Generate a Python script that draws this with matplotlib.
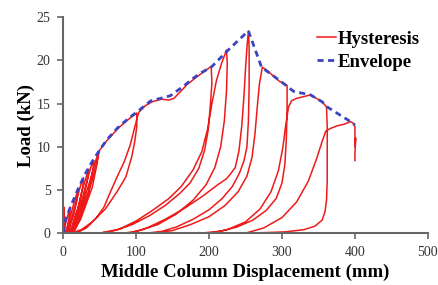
import matplotlib.pyplot as plt

# envelope (blue dashed)
env_x = [0, 3, 10, 20, 30, 40, 50, 60, 75, 90, 101, 120, 147, 165, 178, 190, 203, 224, 240, 254,
         272, 293, 307, 316, 339, 355, 362, 394, 400]
env_y = [0, 1.5, 3.0, 5.0, 6.8, 8.3, 9.6, 10.8, 12.2, 13.3, 14.0, 15.3, 15.9, 17.0, 17.9, 18.6, 19.2, 21.0, 22.3, 23.4,
         19.2, 17.9, 17.0, 16.4, 16.0, 15.2, 14.6, 12.9, 12.5]

# hysteresis, cycle by cycle
small_x = [0, 1, 2, 0.5, 4, 8, 10, 9, 6, 3, 5, 9, 14, 20, 19.5, 15, 8, 5, 8, 14, 20, 25, 28, 27, 22, 12, 8,
           12, 20, 27, 32, 35, 34, 28, 16, 10, 14, 24, 32, 38, 42, 41, 35, 20, 12, 16, 28, 38, 44, 48, 47,
           40, 24, 14, 18, 32, 42, 48, 50]
small_y = [0, 3.0, 0.5, 0.1, 1.3, 2.5, 3.0, 2.2, 0.8, 0.1, 0.3, 1.6, 3.2, 4.9, 4.0, 2.2, 0.4, 0.1, 0.6, 2.4, 4.3,
           5.8, 6.4, 5.4, 3.3, 0.6, 0.1, 0.7, 2.8, 5.2, 6.6, 7.4, 6.4, 4.0, 0.9, 0.1, 0.8, 3.3, 5.8, 7.6, 8.4,
           7.4, 4.8, 1.3, 0.1, 0.8, 3.6, 6.4, 8.2, 9.2, 8.2, 5.3, 1.6, 0.1, 0.7, 3.8, 6.8, 8.8, 9.6]

c100_x = [60, 75, 90, 101, 101, 98, 94, 86, 74, 58, 40, 25, 14, 18, 32, 45, 56, 64, 74, 84, 92, 98, 102, 104]
c100_y = [10.7, 12.1, 13.2, 13.9, 12.3, 10.5, 8.8, 6.5, 4.8, 2.8, 1.3, 0.4, 0.1, 0, 0.6, 1.7, 3.0, 4.6, 6.5, 8.3,
          10.2, 12.2, 13.5, 14.0]

c200_x = [112, 122, 135, 145, 152, 160, 170, 182, 195, 203, 204, 202, 199, 194, 186, 174, 160, 140, 118, 95, 75,
          55, 58, 78, 100, 122, 145, 162, 178, 190, 198, 204, 210, 217, 224]
c200_y = [14.7, 15.2, 15.5, 15.4, 15.6, 16.3, 17.2, 18.0, 18.8, 19.3, 17.4, 15.0, 12.0, 9.6, 7.5, 5.8, 4.6, 3.2,
          2.0, 1.0, 0.4, 0.1, 0, 0.5, 1.4, 2.6, 4.0, 5.4, 7.3, 9.4, 12.0, 15.0, 17.6, 19.6, 21.2]

c225_x = [225, 224, 221, 216, 208, 196, 178, 155, 130, 105, 88, 92, 115, 140, 165, 190, 212, 224, 229, 236, 241,
          245, 248, 250, 252, 254]
c225_y = [19.6, 16.5, 13.0, 10.0, 7.6, 5.6, 3.8, 2.2, 1.0, 0.3, 0.05, 0, 0.6, 1.6, 2.8, 4.2, 5.6, 6.3, 6.8, 7.6,
          9.5, 12.5, 16.0, 19.0, 21.5, 23.4]

c255_x = [255, 255, 254, 252, 248, 242, 232, 218, 200, 178, 155, 135, 120, 125, 150, 175, 200, 222, 240, 252, 259,
          263, 266, 269, 273, 280, 288, 296, 303, 307]
c255_y = [21.5, 17.0, 13.0, 10.0, 8.4, 7.0, 5.4, 4.0, 2.7, 1.6, 0.7, 0.2, 0.05, 0, 0.3, 1.0, 1.9, 3.2, 4.8, 6.6,
          8.8, 11.5, 14.5, 17.2, 19.2, 18.8, 18.2, 17.6, 17.3, 17.1]

c307_x = [307, 306, 304, 300, 292, 278, 260, 238, 215, 195, 200, 225, 250, 270, 285, 295, 301, 305, 309, 313, 320,
          330, 339, 347, 355, 361]
c307_y = [14.5, 11.0, 8.0, 5.8, 4.0, 2.6, 1.5, 0.7, 0.2, 0.05, 0, 0.4, 1.3, 2.8, 4.8, 7.2, 9.8, 12.4, 14.6, 15.3,
          15.6, 15.8, 16.0, 15.6, 15.2, 14.6]

c362_x = [362, 362, 362, 361, 359, 355, 345, 330, 305, 275, 245, 250, 275, 300, 320, 336, 347, 355, 360, 366, 375,
          385, 394, 398, 400]
c362_y = [12.3, 9.0, 6.0, 3.8, 2.5, 1.5, 0.8, 0.4, 0.15, 0.05, 0, 0, 0.6, 1.8, 3.6, 6.0, 8.5, 10.6, 11.8, 12.1,
          12.4, 12.6, 12.9, 12.7, 12.3]

c400_x = [400, 401, 400, 400]
c400_y = [10.0, 11.0, 9.2, 8.4]

hys_x = small_x + c100_x + c200_x + c225_x + c255_x + c307_x + c362_x + c400_x
hys_y = small_y + c100_y + c200_y + c225_y + c255_y + c307_y + c362_y + c400_y

serif = ['Liberation Serif', 'DejaVu Serif']

fig = plt.figure(figsize=(4.38, 2.85), dpi=100)
ax = fig.add_axes([0.144, 0.182, 0.833, 0.758])

ax.plot(hys_x, hys_y, color='#ee1a1a', lw=1.1, label='Hysteresis')
ax.plot(env_x, env_y, color='#3b45c2', lw=2.0, linestyle=(0, (2.2, 1.6)), label='Envelope')

ax.set_xlim(0, 500)
ax.set_ylim(0, 25)
ax.set_xticks([0, 100, 200, 300, 400, 500])
ax.set_yticks([0, 5, 10, 15, 20, 25])

for s in ['top', 'right']:
    ax.spines[s].set_visible(False)
for s in ['left', 'bottom']:
    ax.spines[s].set_color('#666666')
    ax.spines[s].set_linewidth(1.5)

ax.tick_params(direction='out', length=4, width=1.2, color='#666666', pad=5,
               labelsize=10, labelcolor='#333333')
for lab in ax.get_xticklabels() + ax.get_yticklabels():
    lab.set_family(serif)

ax.set_xlabel('Middle Column Displacement (mm)', fontsize=13.5, fontweight='bold', family=serif, labelpad=4)
ax.set_ylabel('Load (kN)', fontsize=13.5, fontweight='bold', family=serif, labelpad=1)

ax.legend(loc='upper left', bbox_to_anchor=(0.702, 0.925), bbox_transform=fig.transFigure,
          frameon=False, handlelength=1.0, handletextpad=0.1, borderpad=0, labelspacing=0.3,
          prop={'family': serif, 'weight': 'bold', 'size': 13.5})

fig.savefig('out.png', dpi=100)
